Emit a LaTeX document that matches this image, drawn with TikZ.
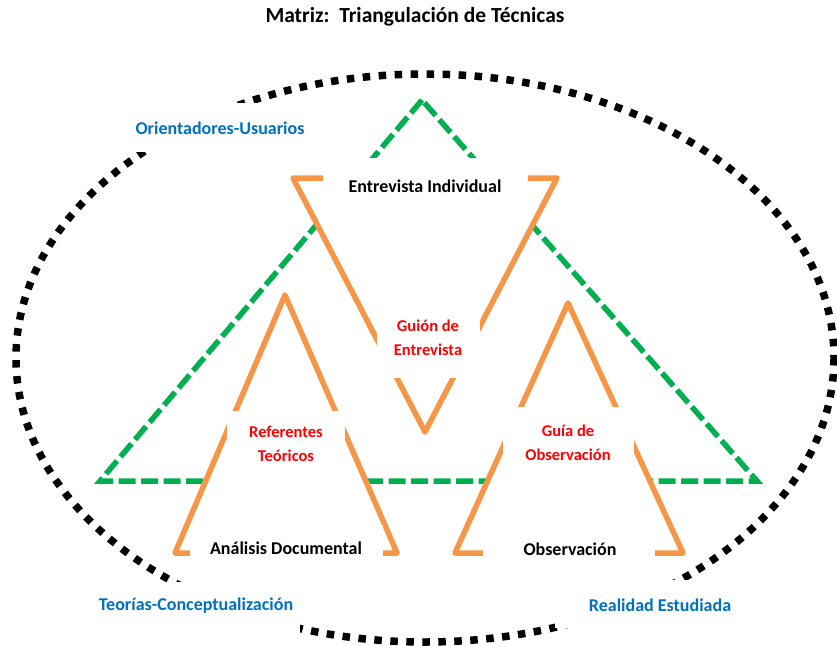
\documentclass[tikz,border=0pt]{standalone}
\usepackage{fontspec}
\setmainfont{Carlito}
\definecolor{corange}{HTML}{F79646}
\definecolor{cgreen}{HTML}{00B050}
\definecolor{cblue}{HTML}{0070C0}
\definecolor{cred}{HTML}{FF0000}
\begin{document}
\begin{tikzpicture}[x=1pt,y=-1pt,
  ellipsedots/.style={draw=black, line width=7.5pt, dash pattern=on 7.5pt off 8.5pt},
  greendash/.style={draw=cgreen, line width=5.5pt, dash pattern=on 17pt off 5.5pt, line join=miter},
  orangetri/.style={draw=corange, fill=white, line width=5.5pt, line join=round},
  blank/.style={fill=white},
  lbl/.style={font=\fontsize{18}{22}\selectfont\bfseries, inner sep=0pt, align=center},
  redlbl/.style={font=\fontsize{16.5}{23.5}\selectfont\bfseries, text=cred, inner sep=0pt, align=center},
  bluelbl/.style={font=\fontsize{18}{22}\selectfont\bfseries, text=cblue, inner sep=0pt, align=center},
  titlelbl/.style={font=\fontsize{21.5}{25}\selectfont\bfseries, inner sep=0pt}]
\useasboundingbox (0,0) rectangle (837,645);

% outer dotted ellipse
\draw[ellipsedots] (425,358) ellipse [x radius=409, y radius=284];

% green dashed triangle
\coordinate (gA) at (422,100);
\coordinate (gB) at (100,481);
\coordinate (gC) at (757,481);
\draw[greendash] (gA) -- (gB) -- (gC) -- cycle;

% orange triangles (white filled)
\coordinate (vA) at (293,178);
\coordinate (vB) at (557,178);
\coordinate (vC) at (425,432);
\draw[orangetri] (vA) -- (vB) -- (vC) -- cycle;
\coordinate (lA) at (285,295);
\coordinate (lB) at (175,553);
\coordinate (lC) at (397,553);
\draw[orangetri] (lA) -- (lB) -- (lC) -- cycle;
\coordinate (rA) at (568,303);
\coordinate (rB) at (455,553);
\coordinate (rC) at (683,553);
\draw[orangetri] (rA) -- (rB) -- (rC) -- cycle;

% white text boxes
\fill[blank] (128,103) rectangle (312,152);
\fill[blank] (92,582) rectangle (300,635);
\fill[blank] (555,580) rectangle (765,628);
\fill[blank] (323,158) rectangle (528,200);
\fill[blank] (377,305) rectangle (480,378);
\fill[blank] (227,411) rectangle (345,470);
\fill[blank] (503,407) rectangle (634,470);
\fill[blank] (190,525) rectangle (383,568);
\fill[blank] (483,528) rectangle (655,570);

% labels
\node[titlelbl] (title) at (415,17) {Matriz:\ \ Triangulación de Técnicas};
\node[bluelbl] (orient) at (220,128) {Orientadores-Usuarios};
\node[bluelbl] (teorias) at (196,606) {Teorías-Conceptualización};
\node[bluelbl] (realidad) at (660,605) {Realidad Estudiada};
\node[lbl] (entrev) at (425,186) {Entrevista Individual};
\node[redlbl] (guion) at (428,338) {Guión de\\Entrevista};
\node[redlbl] (refer) at (286,444) {Referentes\\Teóricos};
\node[redlbl] (guia) at (568,443) {Guía de\\Observación};
\node[lbl] (analisis) at (286,548) {Análisis Documental};
\node[lbl] (observ) at (570,549) {Observación};
\end{tikzpicture}
\end{document}
